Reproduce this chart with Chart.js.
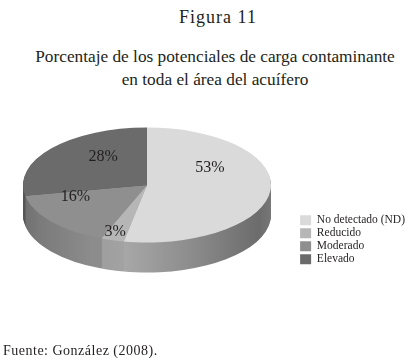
<!DOCTYPE html>
<html lang="es">
<head>
  <meta charset="UTF-8">
  <title>Figura 11</title>
  <style>
    body {
      margin: 0;
      background: #fff;
      font-family: "Liberation Serif", serif;
      color: #231f20;
    }
    #wrap {
      position: relative;
      width: 415px;
      height: 361px;
      overflow: hidden;
    }
    .txt {
      position: absolute;
      white-space: nowrap;
    }
    #fig {
      left: 0;
      width: 436px;
      top: 7px;
      text-align: center;
      font-size: 18px;
      letter-spacing: 1px;
    }
    #sub {
      left: 0;
      width: 430px;
      top: 45px;
      text-align: center;
      font-size: 17.3px;
      line-height: 23px;
    }
    #src {
      left: 3px;
      top: 343px;
      font-size: 14px;
      letter-spacing: 0.5px;
    }
    #chartBox {
      position: absolute;
      left: 0;
      top: 0;
      width: 415px;
      height: 361px;
    }
  </style>
</head>
<body>
  <div id="wrap">
    <div class="txt" id="fig">Figura 11</div>
    <div class="txt" id="sub">Porcentaje de los potenciales de carga contaminante<br>en toda el área del acuífero</div>
    <div id="chartBox"><canvas id="pieChart"></canvas></div>
    <div class="txt" id="src">Fuente: González (2008).</div>
  </div>

  <script src="https://cdn.jsdelivr.net/npm/chart.js"></script>
  <script>
    // Data
    const categories = ['No detectado (ND)', 'Reducido', 'Moderado', 'Elevado'];
    const percentages = [53, 3, 16, 28];

    // Colours (top face, then side wall gradients as [stop, colour])
    const topColors = ['#dadada', '#b6b6b6', '#8f8f8f', '#6b6b6b'];
    const sideStops = [
      [[0, '#b0b0b0'], [0.40, '#a8a8a8'], [0.68, '#8c8c8c'], [0.95, '#6c6c6c'], [1, '#777777']],
      [[0, '#9c9c9c'], [0.28, '#9c9c9c'], [0.40, '#a2a2a2'], [1, '#a2a2a2']],
      [[0, '#6e6e6e'], [0.06, '#7a7a7a'], [0.28, '#8c8c8c'], [1, '#8c8c8c']],
      [[0, '#555555'], [1, '#555555']]
    ];

    // Where the flattened pie sits on the page
    const ELL = { cx: 147, cy: 185, rx: 124, ry: 57.5, depth: 30 };
    // label placement inside each slice (fraction of radius, vertical lift)
    const labelRadius = [0.51, 0.92, 0.75, 0.46];
    const labelLift = [-20, -4, -16, -11];

    function applyEllipse(ctx, arc0, dy) {
      const R = arc0.outerRadius;
      ctx.translate(ELL.cx, ELL.cy + dy);
      ctx.scale(ELL.rx / R, ELL.ry / R);
      ctx.translate(-arc0.x, -arc0.y);
    }

    const pie3d = {
      id: 'pie3d',
      beforeDatasetsDraw(chart) {
        const ctx = chart.ctx;
        const arcs = chart.getDatasetMeta(0).data;
        const a0 = arcs[0];
        const R = a0.outerRadius;

        // side walls: stacked copies of the slices, darker, shifted down
        const sides = arcs.map((arc, i) => {
          const g = ctx.createLinearGradient(a0.x - R, 0, a0.x + R, 0);
          sideStops[i].forEach(s => g.addColorStop(s[0], s[1]));
          const el = Object.create(arc);
          el.options = Object.assign({}, arc.options, { backgroundColor: g, borderWidth: 0 });
          return el;
        });
        for (let d = ELL.depth; d >= 1; d--) {
          ctx.save();
          applyEllipse(ctx, a0, d);
          sides.forEach(el => el.draw(ctx));
          ctx.restore();
        }

        // top face is drawn by the chart itself under this transform
        ctx.save();
        applyEllipse(ctx, a0, 0);
      },
      afterDatasetsDraw(chart) {
        const ctx = chart.ctx;
        ctx.restore();

        const arcs = chart.getDatasetMeta(0).data;
        ctx.save();
        ctx.font = '16px "Liberation Serif"';
        ctx.fillStyle = '#231f20';
        ctx.textAlign = 'center';
        ctx.textBaseline = 'middle';
        arcs.forEach((arc, i) => {
          const mid = (arc.startAngle + arc.endAngle) / 2;
          const x = ELL.cx + ELL.rx * labelRadius[i] * Math.cos(mid);
          const y = ELL.cy + ELL.ry * labelRadius[i] * Math.sin(mid) + labelLift[i];
          ctx.fillText(percentages[i] + '%', x, y);
        });
        ctx.restore();
      }
    };

    const ctx = document.getElementById('pieChart').getContext('2d');
    new Chart(ctx, {
      type: 'pie',
      data: {
        labels: categories,
        datasets: [{
          data: percentages,
          backgroundColor: topColors,
          borderWidth: 0,
          clip: false
        }]
      },
      options: {
        responsive: true,
        maintainAspectRatio: false,
        animation: false,
        events: [],
        layout: {
          padding: { top: 213, right: 0, bottom: 10, left: 0 }
        },
        plugins: {
          legend: {
            position: 'right',
            align: 'start',
            labels: {
              boxWidth: 11,
              boxHeight: 10,
              padding: 1.5,
              color: '#231f20',
              font: { family: '"Liberation Serif"', size: 11.5 }
            }
          },
          tooltip: { enabled: false },
          title: { display: false }
        }
      },
      plugins: [pie3d]
    });
  </script>
</body>
</html>
